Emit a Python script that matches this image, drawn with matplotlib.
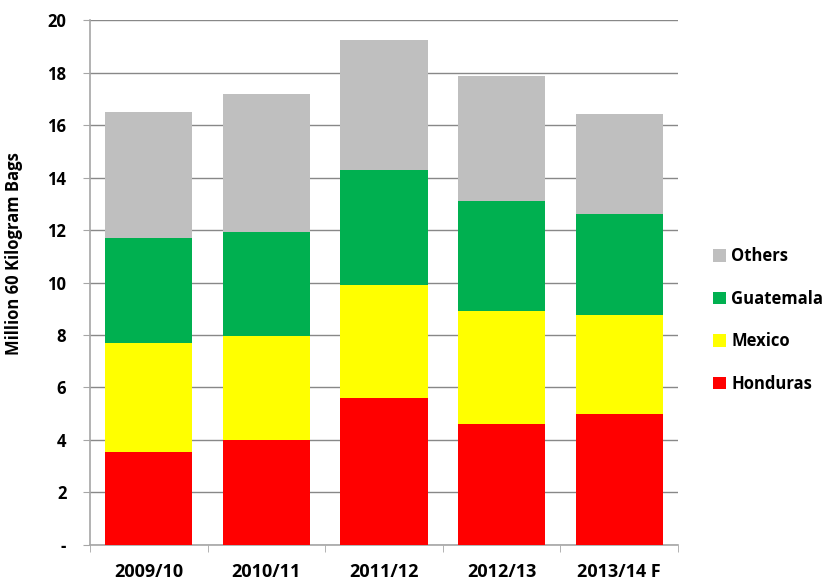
import matplotlib.pyplot as plt
import numpy as np

plt.rcParams['font.family'] = ['Open Sans', 'DejaVu Sans']
plt.rcParams['font.weight'] = 'bold'

years = ['2009/10', '2010/11', '2011/12', '2012/13', '2013/14 F']
honduras = [3.54, 4.0, 5.6, 4.6, 5.0]
mexico = [4.16, 3.96, 4.3, 4.3, 3.77]
guatemala = [4.0, 3.96, 4.39, 4.19, 3.85]
others = [4.8, 5.26, 4.95, 4.77, 3.81]

series = [('Honduras', honduras, '#FF0000'),
          ('Mexico', mexico, '#FFFF00'),
          ('Guatemala', guatemala, '#00B050'),
          ('Others', others, '#BFBFBF')]

fig = plt.figure(figsize=(8.33, 5.82), dpi=100)
ax = fig.add_axes([0.108, 0.0636, 0.706, 0.902])

x = np.arange(len(years))
bottom = np.zeros(len(years))
handles = []
for name, vals, col in series:
    b = ax.bar(x, vals, 0.74, bottom=bottom, color=col, label=name, zorder=3)
    handles.append(b)
    bottom += np.array(vals)

ax.set_ylim(0, 20)
ax.set_xlim(-0.5, len(years) - 0.5)
ax.set_yticks(range(0, 21, 2))
ax.set_yticklabels(['-'] + [str(v) for v in range(2, 21, 2)], fontweight='bold')
ax.yaxis.grid(True, color='#888888', linewidth=1, zorder=0)

ax.set_xticks(x)
ax.set_xticklabels(years, fontweight='bold')
ax.set_xticks(np.arange(-0.5, len(years), 1), minor=True)
ax.tick_params(axis='x', which='major', length=0, pad=13, labelsize=13)
ax.tick_params(axis='x', which='minor', length=5, color='#A6A6A6', direction='out')
ax.tick_params(axis='y', length=5, color='#A6A6A6', labelsize=12, pad=12)

for s in ['top', 'right']:
    ax.spines[s].set_visible(False)
for s in ['left', 'bottom']:
    ax.spines[s].set_color('#A6A6A6')
    ax.spines[s].set_linewidth(1.2)

ax.set_ylabel('Million 60 Kilogram Bags', fontsize=12, fontweight='bold')
ax.yaxis.set_label_coords(-0.114, 0.556)

leg = fig.legend(handles[::-1], [s[0] for s in series][::-1], loc='center left',
                 bbox_to_anchor=(0.838, 0.450), frameon=False,
                 prop={'size': 12, 'weight': 'bold'},
                 handlelength=0.8, handleheight=0.8, handletextpad=0.3,
                 labelspacing=1.47)

fig.savefig('out.png', dpi=100)
